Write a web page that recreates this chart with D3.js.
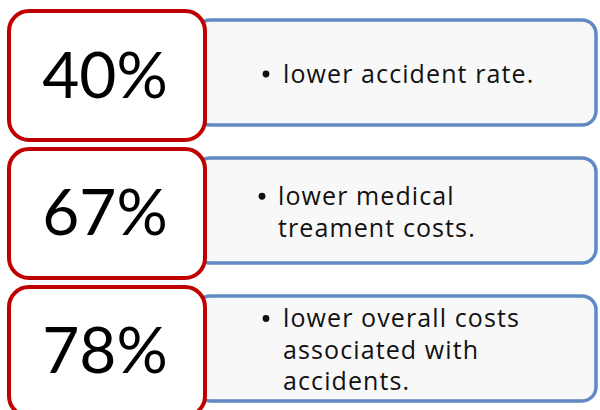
<!DOCTYPE html>
<html>
<head>
<meta charset="utf-8">
<script src="https://cdn.jsdelivr.net/npm/d3@7"></script>
<style>
  body { margin: 0; background: #fff; }
  svg { display: block; }
</style>
</head>
<body>
<script>
  const values = [40, 67, 78];
  const notes = [
    ["lower accident rate."],
    ["lower medical", "treament costs."],
    ["lower overall costs", "associated with", "accidents."]
  ];

  const width = 600, height = 410;
  const svg = d3.select('body').append('svg')
    .attr('width', width)
    .attr('height', height);

  // one row per stat
  const y = d3.scaleBand()
    .domain(d3.range(values.length))
    .range([9, 418])
    .paddingInner(0.036);

  const rows = svg.selectAll('.row')
    .data(values)
    .enter()
    .append('g')
      .attr('class', 'row')
      .attr('transform', (d, i) => 'translate(0,' + y(i) + ')');

  // blue note box behind the red number box
  rows.append('rect')
    .attr('x', 196)
    .attr('y', 11)
    .attr('width', 400)
    .attr('height', 105)
    .attr('rx', 14)
    .attr('fill', '#f8f8f8')
    .attr('stroke', '#5f8ac3')
    .attr('stroke-width', 3.5);

  rows.append('rect')
    .attr('x', 9)
    .attr('y', 2)
    .attr('width', 196)
    .attr('height', y.bandwidth() - 4)
    .attr('rx', 20)
    .attr('fill', '#fff')
    .attr('stroke', '#c00000')
    .attr('stroke-width', 4);

  rows.append('text')
    .attr('x', 105)
    .attr('y', y.bandwidth() / 2 + 22)
    .attr('text-anchor', 'middle')
    .style('font-family', 'Lato, "Open Sans", sans-serif')
    .style('font-size', '64px')
    .style('fill', '#000')
    .text(d => d + '%');

  // bullet text, lines centred vertically in the blue box
  rows.each(function(d, i) {
    const g = d3.select(this);
    const lines = notes[i];
    const lh = 31.5;
    const top = 64 - (lines.length - 1) * lh / 2 + 10;
    g.append('circle')
      .attr('cx', i === 1 ? 262 : 266)
      .attr('cy', top - 9)
      .attr('r', 3.4)
      .attr('fill', '#111');
    lines.forEach((line, k) => {
      g.append('text')
        .attr('x', i === 1 ? 278 : 283)
        .attr('y', top + k * lh)
        .style('font-family', '"Open Sans", sans-serif')
        .style('font-size', '25px')
        .style('letter-spacing', '1.1px')
        .style('fill', '#111')
        .text(line);
    });
  });
</script>
</body>
</html>
